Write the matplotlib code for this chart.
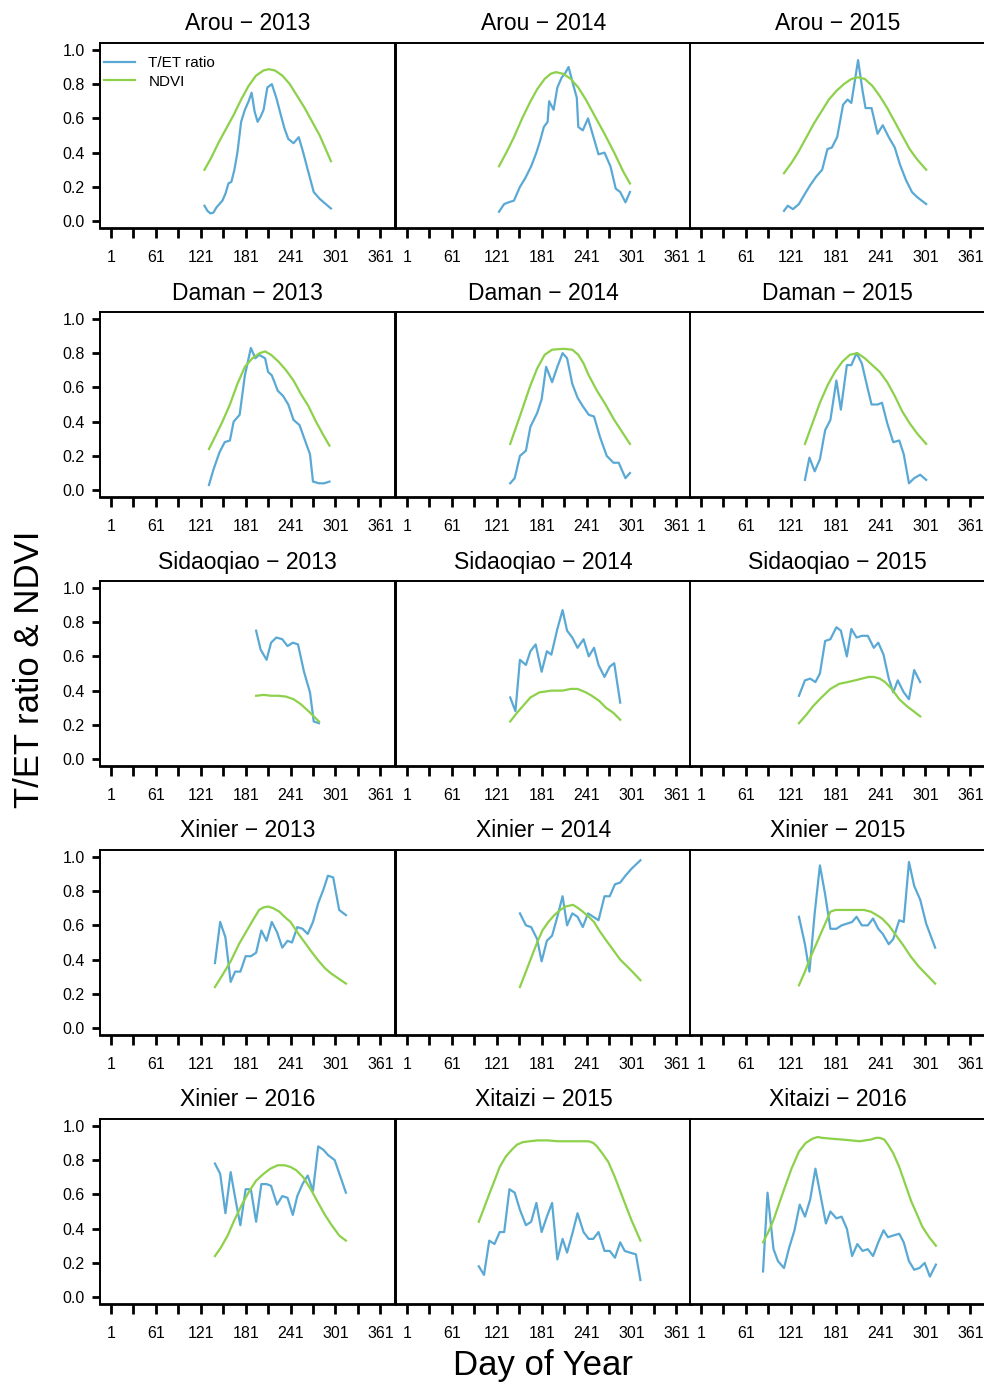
import matplotlib
matplotlib.use("Agg")
import matplotlib.pyplot as plt

plt.rcParams['font.family'] = ['Liberation Sans', 'DejaVu Sans']

# ---- data: T/ET ratio and NDVI per site-year (day of year, value) ----
arou13_tet_doy = [126, 130, 134, 138, 142, 146, 150, 154, 158, 162, 166, 170, 175, 180, 185, 189, 193, 197, 201, 205,
                  210, 216, 222, 228, 233, 238, 245, 252, 258, 264, 272, 280, 288, 295]
arou13_tet = [0.09, 0.06, 0.045, 0.05, 0.08, 0.10, 0.12, 0.16, 0.22, 0.23, 0.30, 0.40, 0.58, 0.65, 0.70, 0.75, 0.64,
              0.58, 0.61, 0.65, 0.78, 0.80, 0.72, 0.62, 0.54, 0.48, 0.455, 0.49, 0.40, 0.30, 0.17, 0.13, 0.10, 0.074]
arou13_ndvi_doy = [126, 135, 145, 155, 165, 175, 185, 195, 205, 212, 220, 230, 240, 250, 260, 270, 280, 290, 295]
arou13_ndvi = [0.30, 0.37, 0.46, 0.54, 0.62, 0.71, 0.79, 0.85, 0.88, 0.887, 0.88, 0.85, 0.80, 0.73, 0.66, 0.58, 0.50,
               0.40, 0.35]

arou14_tet_doy = [124, 131, 137, 144, 152, 159, 167, 174, 179, 184, 189, 191, 197, 202, 208, 212, 217, 223, 228, 230,
                  236, 243, 251, 257, 265, 273, 280, 286, 293, 299]
arou14_tet = [0.055, 0.10, 0.11, 0.12, 0.20, 0.25, 0.32, 0.40, 0.47, 0.55, 0.58, 0.70, 0.65, 0.78, 0.84, 0.86, 0.90,
              0.80, 0.72, 0.55, 0.53, 0.60, 0.48, 0.39, 0.40, 0.32, 0.19, 0.17, 0.11, 0.17]
arou14_ndvi_doy = [124, 135, 144, 155, 165, 175, 185, 193, 200, 210, 220, 230, 240, 245, 255, 265, 278, 290, 299]
arou14_ndvi = [0.32, 0.41, 0.49, 0.60, 0.69, 0.77, 0.83, 0.86, 0.87, 0.86, 0.83, 0.78, 0.71, 0.67, 0.59, 0.51, 0.40,
               0.29, 0.22]

arou15_tet_doy = [112, 117, 124, 132, 140, 147, 155, 163, 170, 176, 183, 191, 197, 202, 211, 217, 221, 229, 237, 244,
                  252, 260, 267, 275, 283, 290, 302]
arou15_tet = [0.06, 0.09, 0.07, 0.10, 0.16, 0.21, 0.26, 0.30, 0.42, 0.43, 0.49, 0.68, 0.71, 0.69, 0.94, 0.76, 0.66,
              0.66, 0.51, 0.56, 0.49, 0.43, 0.33, 0.24, 0.17, 0.14, 0.10]
arou15_ndvi_doy = [112, 122, 132, 142, 152, 162, 172, 182, 192, 202, 211, 220, 230, 240, 250, 260, 270, 280, 290, 302]
arou15_ndvi = [0.28, 0.34, 0.41, 0.49, 0.57, 0.64, 0.71, 0.76, 0.80, 0.83, 0.84, 0.83, 0.79, 0.73, 0.66, 0.58, 0.50,
               0.42, 0.36, 0.30]

daman13_tet_doy = [132, 138, 146, 153, 160, 165, 173, 180, 188, 194, 199, 207, 211, 216, 224, 231, 238, 245, 253, 262,
                   267, 271, 279, 286, 293]
daman13_tet = [0.03, 0.12, 0.22, 0.28, 0.29, 0.40, 0.44, 0.67, 0.83, 0.77, 0.79, 0.77, 0.69, 0.67, 0.58, 0.55, 0.50,
               0.41, 0.38, 0.27, 0.21, 0.05, 0.04, 0.04, 0.05]
daman13_ndvi_doy = [132, 140, 150, 160, 170, 180, 190, 200, 207, 215, 225, 235, 245, 255, 265, 275, 285, 293]
daman13_ndvi = [0.24, 0.31, 0.40, 0.50, 0.62, 0.72, 0.77, 0.80, 0.81, 0.79, 0.75, 0.70, 0.64, 0.56, 0.49, 0.40, 0.32,
                0.26]

daman14_tet_doy = [139, 145, 152, 160, 166, 175, 181, 187, 195, 202, 209, 215, 222, 229, 236, 244, 251, 259, 268, 277,
                   284, 293, 299]
daman14_tet = [0.04, 0.07, 0.20, 0.23, 0.37, 0.45, 0.53, 0.72, 0.63, 0.72, 0.80, 0.77, 0.62, 0.54, 0.49, 0.44, 0.43,
               0.31, 0.20, 0.16, 0.16, 0.07, 0.10]
daman14_ndvi_doy = [139, 147, 155, 165, 175, 185, 195, 210, 222, 230, 237, 244, 255, 265, 278, 290, 299]
daman14_ndvi = [0.27, 0.37, 0.47, 0.60, 0.71, 0.79, 0.82, 0.825, 0.82, 0.79, 0.74, 0.67, 0.58, 0.51, 0.41, 0.33, 0.27]

daman15_tet_doy = [140, 146, 153, 160, 167, 174, 182, 188, 196, 202, 209, 216, 224, 229, 237, 243, 250, 258, 266, 272,
                   279, 286, 294, 302]
daman15_tet = [0.06, 0.19, 0.11, 0.18, 0.35, 0.41, 0.64, 0.47, 0.73, 0.73, 0.80, 0.74, 0.59, 0.50, 0.50, 0.51, 0.39,
               0.28, 0.29, 0.21, 0.04, 0.07, 0.09, 0.06]
daman15_ndvi_doy = [140, 150, 160, 170, 180, 190, 200, 210, 220, 230, 240, 250, 260, 270, 280, 290, 302]
daman15_ndvi = [0.27, 0.39, 0.51, 0.61, 0.69, 0.75, 0.79, 0.80, 0.77, 0.73, 0.69, 0.63, 0.55, 0.46, 0.39, 0.33, 0.27]

sida13_tet_doy = [195, 201, 209, 215, 222, 230, 237, 244, 251, 259, 267, 272, 279]
sida13_tet = [0.75, 0.64, 0.58, 0.68, 0.71, 0.70, 0.66, 0.68, 0.67, 0.51, 0.39, 0.22, 0.21]
sida13_ndvi_doy = [195, 205, 215, 225, 235, 245, 255, 265, 272, 279]
sida13_ndvi = [0.37, 0.375, 0.37, 0.37, 0.365, 0.35, 0.32, 0.28, 0.25, 0.22]

sida14_tet_doy = [139, 146, 152, 160, 166, 173, 181, 188, 194, 202, 209, 215, 222, 229, 237, 244, 251, 257, 265, 272,
                  278, 286]
sida14_tet = [0.36, 0.28, 0.58, 0.55, 0.63, 0.67, 0.51, 0.63, 0.61, 0.76, 0.87, 0.75, 0.71, 0.65, 0.70, 0.60, 0.65,
              0.55, 0.48, 0.54, 0.56, 0.33]
sida14_ndvi_doy = [139, 148, 156, 166, 178, 194, 209, 220, 229, 240, 248, 258, 267, 277, 286]
sida14_ndvi = [0.22, 0.27, 0.31, 0.36, 0.39, 0.40, 0.40, 0.41, 0.41, 0.39, 0.37, 0.34, 0.30, 0.27, 0.23]

sida15_tet_doy = [132, 140, 147, 154, 160, 167, 174, 182, 188, 196, 202, 209, 216, 224, 232, 238, 245, 252, 258, 264,
                  272, 279, 286, 294]
sida15_tet = [0.37, 0.46, 0.47, 0.45, 0.50, 0.69, 0.70, 0.77, 0.75, 0.60, 0.76, 0.71, 0.72, 0.72, 0.65, 0.68, 0.61,
              0.47, 0.39, 0.46, 0.39, 0.35, 0.52, 0.45]
sida15_ndvi_doy = [132, 142, 151, 162, 174, 186, 197, 207, 216, 225, 232, 240, 247, 256, 266, 276, 285, 294]
sida15_ndvi = [0.21, 0.26, 0.31, 0.36, 0.41, 0.44, 0.45, 0.46, 0.47, 0.48, 0.48, 0.47, 0.45, 0.41, 0.35, 0.31, 0.28,
               0.25]

xin13_tet_doy = [140, 147, 154, 161, 167, 174, 181, 188, 195, 202, 209, 216, 223, 230, 237, 243, 250, 257, 264, 271,
                 278, 285, 291, 298, 306, 315]
xin13_tet = [0.38, 0.62, 0.53, 0.27, 0.33, 0.33, 0.42, 0.42, 0.44, 0.57, 0.51, 0.62, 0.56, 0.47, 0.51, 0.50, 0.59,
             0.58, 0.55, 0.62, 0.73, 0.81, 0.89, 0.88, 0.69, 0.66]
xin13_ndvi_doy = [140, 150, 161, 172, 184, 192, 199, 205, 211, 218, 226, 233, 241, 250, 260, 270, 279, 287, 295, 305,
                  315]
xin13_ndvi = [0.24, 0.31, 0.39, 0.49, 0.58, 0.64, 0.69, 0.705, 0.71, 0.70, 0.68, 0.65, 0.62, 0.56, 0.50, 0.44, 0.39,
              0.35, 0.32, 0.29, 0.26]

xin14_tet_doy = [152, 160, 167, 175, 181, 188, 195, 202, 209, 215, 222, 229, 236, 243, 250, 257, 265, 272, 279, 286,
                 293, 301, 313]
xin14_tet = [0.67, 0.60, 0.59, 0.52, 0.39, 0.51, 0.54, 0.65, 0.77, 0.60, 0.67, 0.65, 0.59, 0.67, 0.65, 0.63, 0.77,
             0.77, 0.84, 0.85, 0.89, 0.93, 0.98]
xin14_ndvi_doy = [152, 160, 167, 175, 182, 190, 198, 206, 213, 223, 230, 236, 244, 251, 258, 266, 276, 286, 300, 313]
xin14_ndvi = [0.24, 0.33, 0.41, 0.50, 0.57, 0.62, 0.66, 0.69, 0.71, 0.72, 0.70, 0.68, 0.65, 0.62, 0.57, 0.52, 0.46,
              0.40, 0.34, 0.28]

xin15_tet_doy = [132, 140, 146, 153, 160, 167, 174, 182, 189, 196, 203, 209, 216, 224, 231, 238, 244, 252, 258, 266,
                 272, 279, 286, 294, 302, 314]
xin15_tet = [0.65, 0.49, 0.33, 0.67, 0.95, 0.78, 0.58, 0.58, 0.60, 0.61, 0.62, 0.65, 0.60, 0.60, 0.64, 0.58, 0.55,
             0.49, 0.52, 0.63, 0.62, 0.97, 0.83, 0.75, 0.61, 0.47]
xin15_ndvi_doy = [132, 140, 147, 155, 163, 169, 174, 181, 189, 199, 209, 219, 228, 236, 243, 252, 262, 272, 281, 292,
                  303, 314]
xin15_ndvi = [0.25, 0.33, 0.41, 0.49, 0.57, 0.63, 0.68, 0.69, 0.69, 0.69, 0.69, 0.69, 0.68, 0.66, 0.64, 0.60, 0.54,
              0.48, 0.42, 0.36, 0.31, 0.26]

xin16_tet_doy = [140, 147, 154, 161, 167, 174, 181, 188, 195, 202, 209, 215, 223, 230, 237, 244, 250, 257, 264, 271,
                 278, 285, 291, 300, 315]
xin16_tet = [0.78, 0.72, 0.49, 0.73, 0.58, 0.42, 0.63, 0.63, 0.44, 0.66, 0.66, 0.65, 0.54, 0.59, 0.58, 0.48, 0.59,
             0.66, 0.71, 0.62, 0.88, 0.86, 0.83, 0.80, 0.61]
xin16_ndvi_doy = [140, 148, 157, 166, 176, 186, 195, 205, 214, 224, 233, 241, 249, 258, 268, 278, 287, 296, 306, 315]
xin16_ndvi = [0.24, 0.29, 0.36, 0.45, 0.54, 0.62, 0.68, 0.72, 0.75, 0.77, 0.77, 0.76, 0.74, 0.70, 0.63, 0.55, 0.48,
              0.42, 0.36, 0.33]

xit15_tet_doy = [97, 104, 111, 118, 125, 131, 138, 145, 152, 160, 167, 174, 181, 188, 195, 202, 209, 215, 222, 229,
                 237, 244, 250, 257, 265, 272, 279, 286, 292, 299, 307, 313]
xit15_tet = [0.18, 0.13, 0.33, 0.31, 0.38, 0.38, 0.63, 0.61, 0.51, 0.42, 0.44, 0.55, 0.38, 0.47, 0.55, 0.22, 0.34,
             0.26, 0.37, 0.49, 0.38, 0.34, 0.34, 0.38, 0.27, 0.27, 0.23, 0.32, 0.27, 0.26, 0.25, 0.10]
xit15_ndvi_doy = [97, 104, 110, 118, 125, 133, 141, 148, 156, 165, 175, 190, 202, 215, 230, 244, 250, 255, 262, 270,
                  278, 286, 293, 301, 307, 313]
xit15_ndvi = [0.44, 0.52, 0.59, 0.68, 0.76, 0.82, 0.86, 0.89, 0.905, 0.91, 0.915, 0.915, 0.91, 0.91, 0.91, 0.91,
              0.90, 0.88, 0.84, 0.79, 0.71, 0.62, 0.54, 0.45, 0.39, 0.33]

xit16_tet_doy = [84, 90, 98, 104, 112, 119, 126, 133, 140, 147, 154, 161, 168, 174, 182, 189, 196, 203, 210, 217, 224,
                 231, 238, 245, 251, 258, 266, 272, 279, 286, 293, 300, 307, 315]
xit16_tet = [0.15, 0.61, 0.28, 0.21, 0.17, 0.29, 0.39, 0.54, 0.47, 0.57, 0.75, 0.59, 0.43, 0.50, 0.46, 0.47, 0.40,
             0.24, 0.31, 0.27, 0.28, 0.24, 0.32, 0.39, 0.35, 0.36, 0.37, 0.32, 0.21, 0.16, 0.17, 0.20, 0.12, 0.19]
xit16_ndvi_doy = [84, 91, 98, 105, 113, 122, 132, 141, 150, 157, 163, 175, 190, 202, 213, 220, 228, 235, 240, 246,
                  251, 258, 266, 274, 282, 290, 297, 306, 315]
xit16_ndvi = [0.32, 0.38, 0.45, 0.54, 0.64, 0.75, 0.85, 0.90, 0.925, 0.935, 0.93, 0.925, 0.92, 0.915, 0.91, 0.915,
              0.92, 0.93, 0.93, 0.92, 0.89, 0.84, 0.76, 0.66, 0.56, 0.48, 0.41, 0.35, 0.30]

panels = [
    ("Arou", 2013, arou13_tet_doy, arou13_tet, arou13_ndvi_doy, arou13_ndvi),
    ("Arou", 2014, arou14_tet_doy, arou14_tet, arou14_ndvi_doy, arou14_ndvi),
    ("Arou", 2015, arou15_tet_doy, arou15_tet, arou15_ndvi_doy, arou15_ndvi),
    ("Daman", 2013, daman13_tet_doy, daman13_tet, daman13_ndvi_doy, daman13_ndvi),
    ("Daman", 2014, daman14_tet_doy, daman14_tet, daman14_ndvi_doy, daman14_ndvi),
    ("Daman", 2015, daman15_tet_doy, daman15_tet, daman15_ndvi_doy, daman15_ndvi),
    ("Sidaoqiao", 2013, sida13_tet_doy, sida13_tet, sida13_ndvi_doy, sida13_ndvi),
    ("Sidaoqiao", 2014, sida14_tet_doy, sida14_tet, sida14_ndvi_doy, sida14_ndvi),
    ("Sidaoqiao", 2015, sida15_tet_doy, sida15_tet, sida15_ndvi_doy, sida15_ndvi),
    ("Xinier", 2013, xin13_tet_doy, xin13_tet, xin13_ndvi_doy, xin13_ndvi),
    ("Xinier", 2014, xin14_tet_doy, xin14_tet, xin14_ndvi_doy, xin14_ndvi),
    ("Xinier", 2015, xin15_tet_doy, xin15_tet, xin15_ndvi_doy, xin15_ndvi),
    ("Xinier", 2016, xin16_tet_doy, xin16_tet, xin16_ndvi_doy, xin16_ndvi),
    ("Xitaizi", 2015, xit15_tet_doy, xit15_tet, xit15_ndvi_doy, xit15_ndvi),
    ("Xitaizi", 2016, xit16_tet_doy, xit16_tet, xit16_ndvi_doy, xit16_ndvi),
]

xticks = list(range(1, 362, 30))
xticklabels = [str(d) if (d - 1) % 60 == 0 else "" for d in xticks]
yticks = [0.0, 0.2, 0.4, 0.6, 0.8, 1.0]

blue = "#5aa9d4"
green = "#8dd14b"

W, H = 984, 1385
fig = plt.figure(figsize=(W / 100, H / 100), dpi=100)

lefts = [100, 396, 690]
tops = [43, 312, 581, 850, 1119]
pw, ph = 295, 185

for i, (site, year, tdoy, tet, ndoy, ndvi) in enumerate(panels):
    r, c = divmod(i, 3)
    ax = fig.add_axes([lefts[c] / W, 1 - (tops[r] + ph) / H, pw / W, ph / H])
    ax.plot(tdoy, tet, color=blue, lw=1.6, label="T/ET ratio")
    ax.plot(ndoy, ndvi, color=green, lw=1.6, label="NDVI")
    ax.set_xlim(-13.6, 380.6)
    ax.set_ylim(-0.04, 1.04)
    ax.set_xticks(xticks)
    ax.set_xticklabels(xticklabels)
    ax.tick_params(axis='x', length=7.5, width=2, pad=8, labelsize=11.5)
    if c == 0:
        ax.set_yticks(yticks)
        ax.set_yticklabels(["%.1f" % v for v in yticks])
        ax.tick_params(axis='y', length=6, width=2, pad=5, labelsize=11.5)
    else:
        ax.set_yticks(yticks)
        ax.tick_params(axis='y', left=False, labelleft=False)
    for s in ax.spines.values():
        s.set_linewidth(1.4)
    ax.spines['bottom'].set_linewidth(2)
    ax.set_title(f"{site} \u2212 {year}", fontsize=16.5, pad=9)
    if i == 0:
        ax.legend(loc='upper left', bbox_to_anchor=(-0.012, 0.97), frameon=False,
                  fontsize=11, handlelength=2.0, borderaxespad=0.2, labelspacing=0.3,
                  handletextpad=0.9, borderpad=0.3)

fig.text(30 / W, 1 - 669 / H, "T/ET ratio & NDVI", rotation=90, fontsize=25,
         ha='center', va='center')
fig.text(543 / W, 1 - 1366 / H, "Day of Year", fontsize=25, ha='center', va='center')

fig.savefig("out.png", dpi=100)
